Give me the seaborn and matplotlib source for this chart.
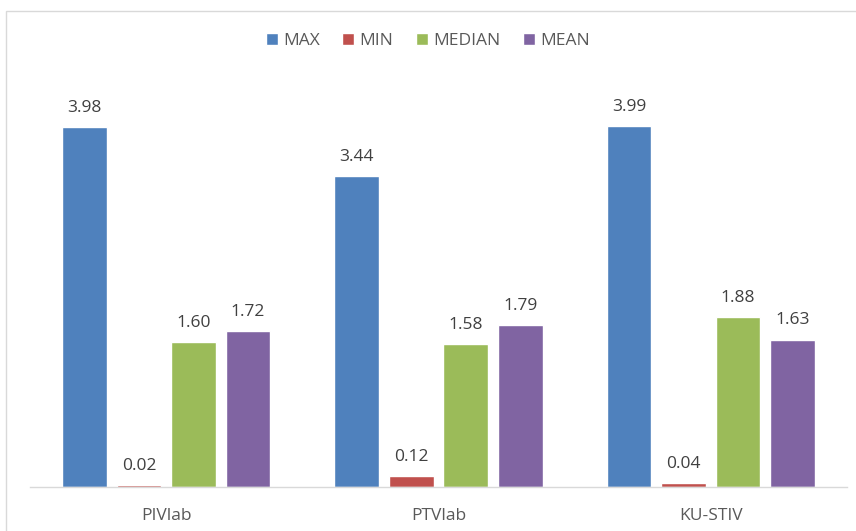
import matplotlib
matplotlib.use("Agg")
import matplotlib.pyplot as plt
import seaborn as sns
import pandas as pd
from matplotlib.patches import Rectangle

categories = ["PIVlab", "PTVlab", "KU-STIV"]
series = ["MAX", "MIN", "MEDIAN", "MEAN"]
max_vals = [3.98, 3.44, 3.99]
min_vals = [0.02, 0.12, 0.04]
median_vals = [1.60, 1.58, 1.88]
mean_vals = [1.72, 1.79, 1.63]
colors = ["#4F81BD", "#C0504D", "#9BBB59", "#8064A2"]

rows = []
for name, vals in zip(series, [max_vals, min_vals, median_vals, mean_vals]):
    for c, v in zip(categories, vals):
        rows.append({"cat": c, "series": name, "value": v})
df = pd.DataFrame(rows)

sns.set_theme(style="white")
plt.rcParams["font.family"] = ["Open Sans", "DejaVu Sans"]

W, H = 856, 531
fig = plt.figure(figsize=(W / 100, H / 100), dpi=100)
ax = fig.add_axes([30 / W, (H - 487) / H, (847 - 30) / W, (487 - 80) / H])

sns.barplot(data=df, x="cat", y="value", hue="series", order=categories,
            hue_order=series, palette=colors, width=0.8, gap=0.18,
            saturation=1, ax=ax, legend=True)

ax.set_ylim(0, 4.5)
ax.set_xlim(-0.5, 2.5)
ax.set_xlabel("")
ax.set_ylabel("")
ax.set_yticks([])
for s in ["top", "right", "left"]:
    ax.spines[s].set_visible(False)
ax.spines["bottom"].set_color("#D9D9D9")
ax.spines["bottom"].set_linewidth(1.0)
ax.tick_params(axis="x", length=0, pad=15, labelsize=12.5, colors="#595959")

for cont in ax.containers:
    ax.bar_label(cont, fmt="%.2f", padding=8, fontsize=12.5, color="#404040")

handles, labels = ax.get_legend_handles_labels()
ax.legend_.remove()
fig.legend(handles, labels, loc="center", bbox_to_anchor=(0.5, 1 - 41 / H),
           ncol=4, frameon=False, fontsize=12.5, handlelength=0.7,
           handleheight=0.7, handletextpad=0.3, columnspacing=1.3,
           labelcolor="#595959")

fig.patches.append(Rectangle((6 / W, -0.1), 1.2, 1 + 0.1 - 11 / H,
                             transform=fig.transFigure, fill=False,
                             edgecolor="#D9D9D9", linewidth=1.0))

fig.savefig("out.png", dpi=100)
